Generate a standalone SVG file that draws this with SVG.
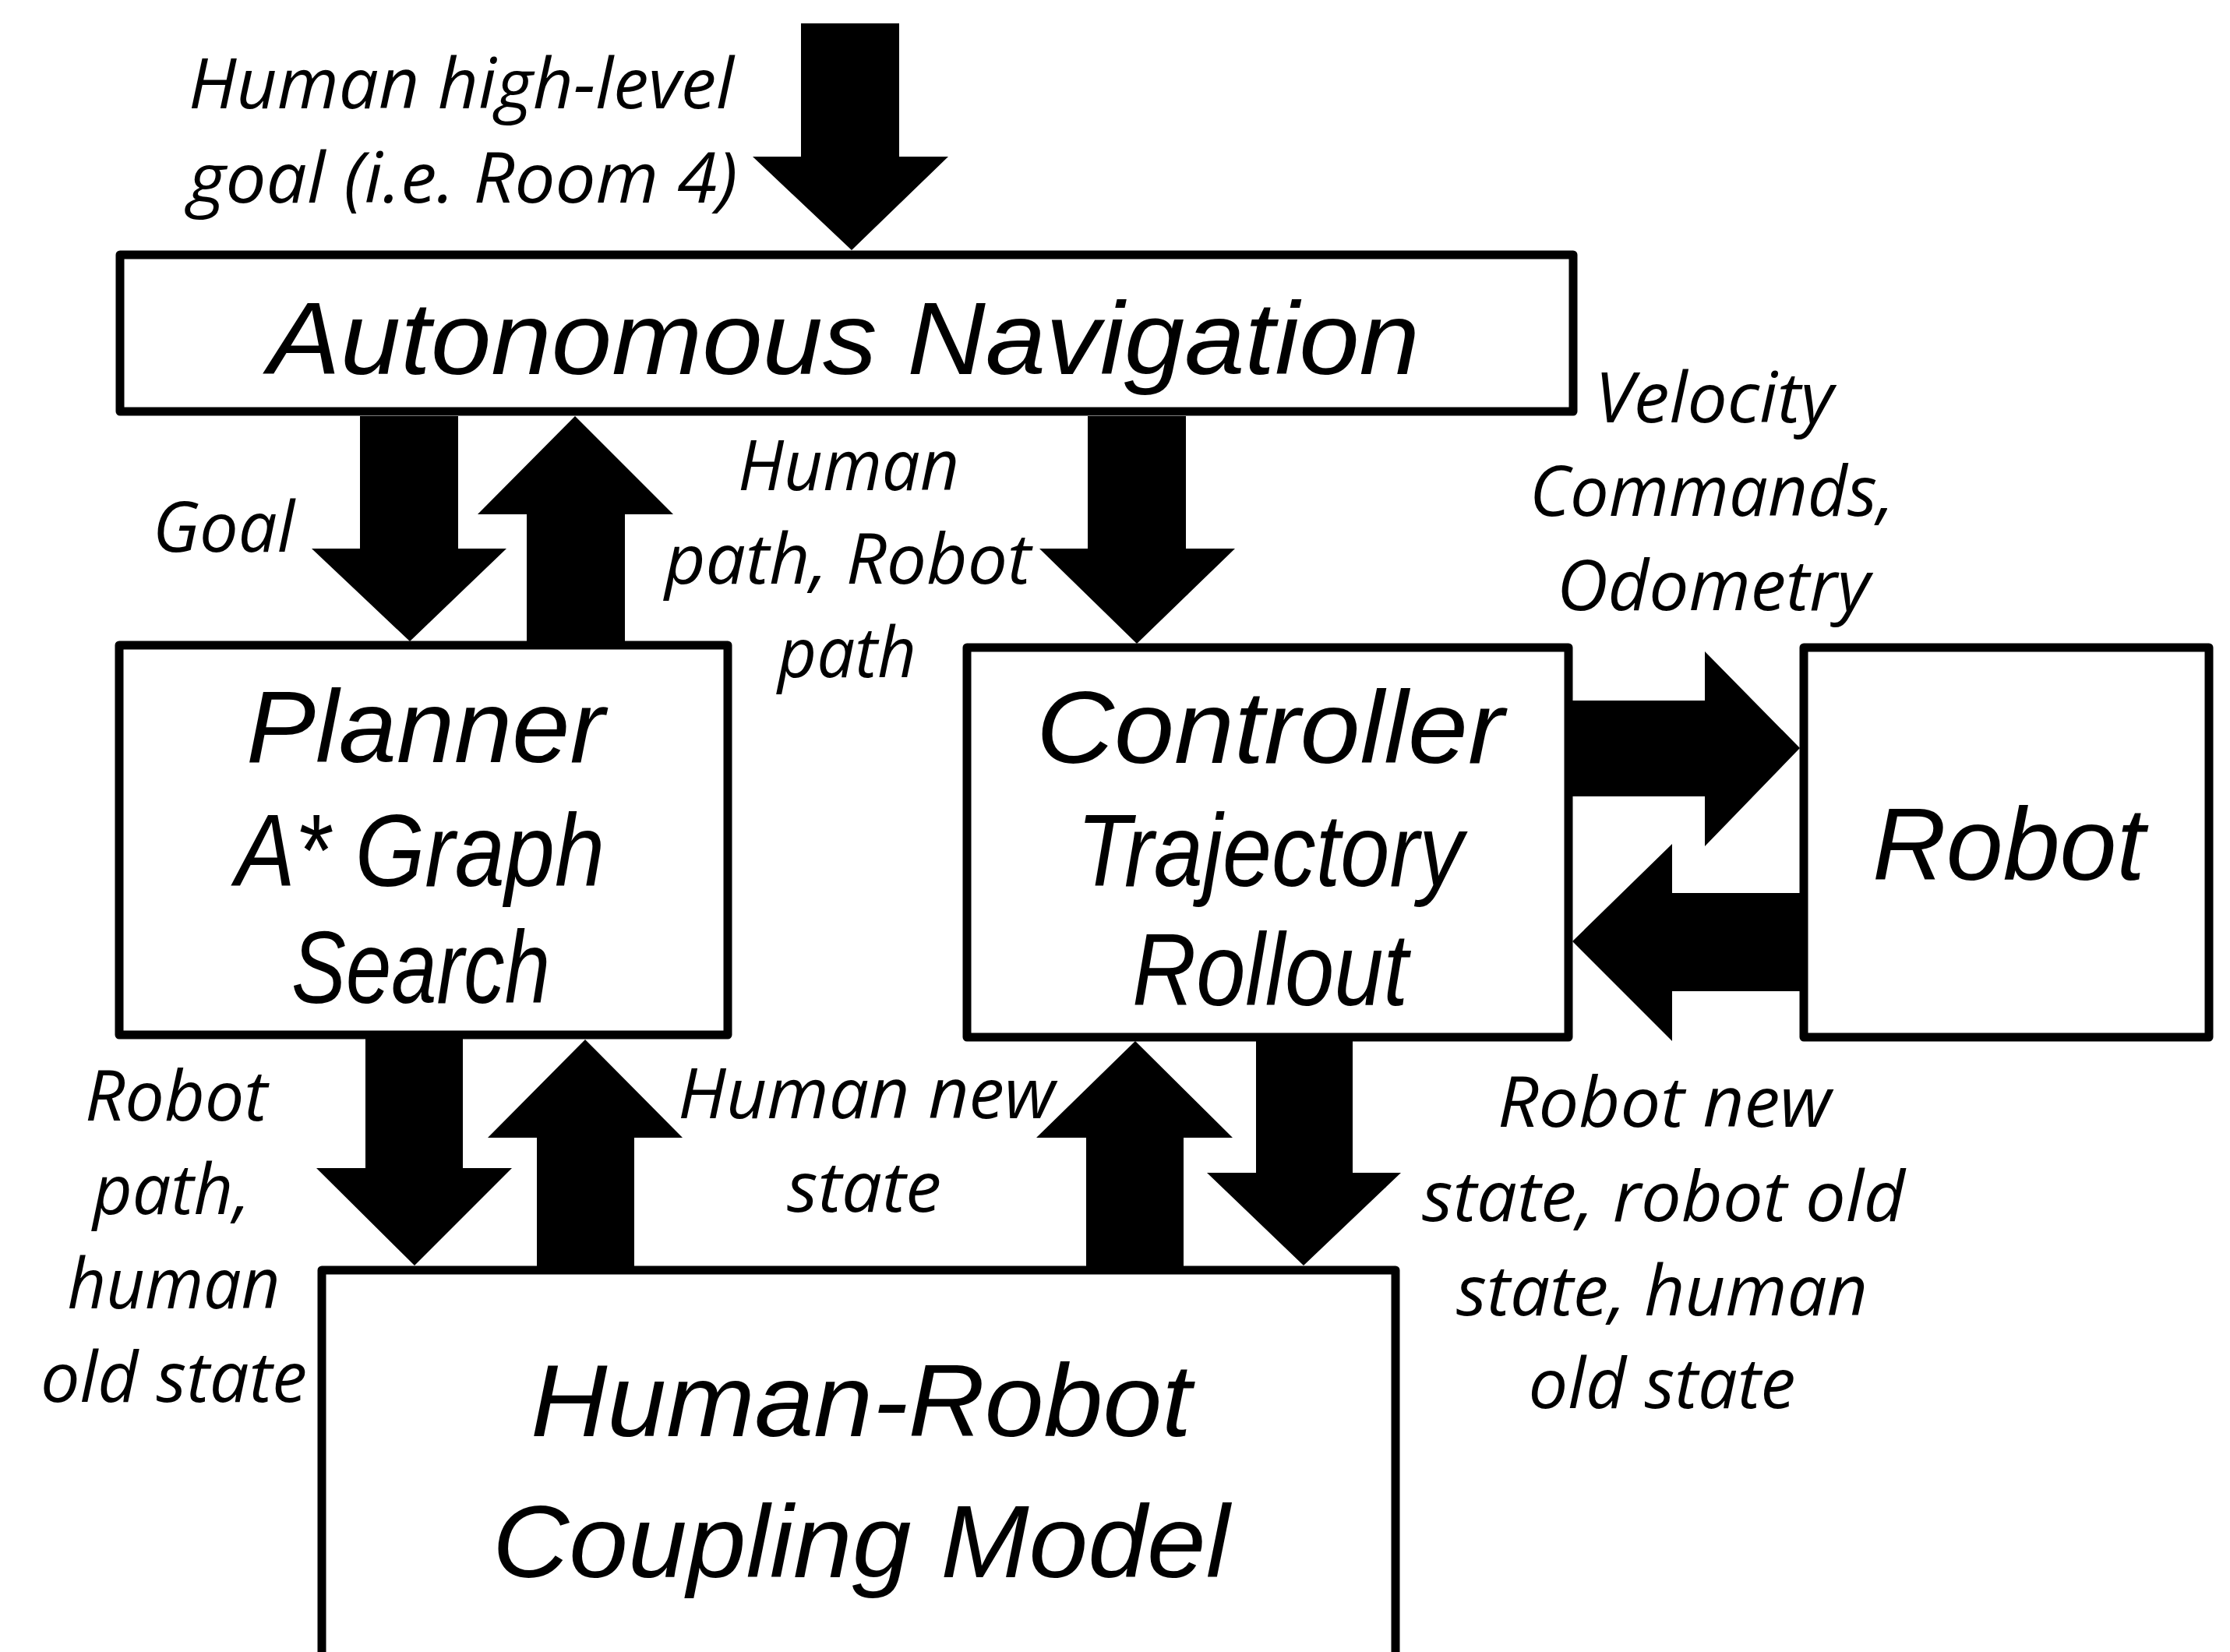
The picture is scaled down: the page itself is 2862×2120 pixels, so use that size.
<svg xmlns="http://www.w3.org/2000/svg" width="2862" height="2120" viewBox="0 0 2862 2120">
  <style>
    .box { fill: #ffffff; stroke: #000000; stroke-width: 11; stroke-linejoin: round; }
    .arrow { fill: #000000; stroke: none; }
    .main { font-family: "Liberation Sans", Arial, sans-serif; font-style: italic; font-size: 131px; fill: #000000; text-anchor: middle; }
    .lbl { font-family: "Open Sans", "Noto Sans", "DejaVu Sans", sans-serif; font-style: italic; font-size: 89px; fill: #000000; text-anchor: middle; }
  </style>
  <rect x="0" y="0" width="2862" height="2120" fill="#ffffff"/>

  <g id="connectors">
    <polygon class="arrow" points="1028,30 1154,30 1154,201 1217,201 1093,321 966,201 1028,201"/>
    <polygon class="arrow" points="462,534 588,534 588,704 650,704 526,823 400,704 462,704"/>
    <polygon class="arrow" points="676,823 802,823 802,660 864,660 738,534 613,660 676,660"/>
    <polygon class="arrow" points="1396,534 1522,534 1522,704 1585,704 1459,826 1334,704 1396,704"/>
    <polygon class="arrow" points="2018,899 2188,899 2188,836 2310,960 2188,1086 2188,1022 2018,1022"/>
    <polygon class="arrow" points="2310,1146 2146,1146 2146,1083 2018,1208 2146,1336 2146,1272 2310,1272"/>
    <polygon class="arrow" points="469,1333 594,1333 594,1499 657,1499 532,1624 406,1499 469,1499"/>
    <polygon class="arrow" points="689,1625 814,1625 814,1460 876,1460 751,1334 626,1460 689,1460"/>
    <polygon class="arrow" points="1394,1625 1519,1625 1519,1460 1582,1460 1457,1336 1330,1460 1394,1460"/>
    <polygon class="arrow" points="1612,1336 1736,1336 1736,1505 1798,1505 1673,1624 1549,1505 1612,1505"/>
  </g>

  <g id="edge-labels">
    <text class="lbl" x="592" y="139" textLength="700" lengthAdjust="spacingAndGlyphs">Human high-level</text>
    <text class="lbl" x="594" y="260" textLength="705" lengthAdjust="spacingAndGlyphs">goal (i.e. Room 4)</text>
    <text class="lbl" x="287" y="708" textLength="182" lengthAdjust="spacingAndGlyphs">Goal</text>
    <text class="lbl" x="1089" y="629" textLength="284" lengthAdjust="spacingAndGlyphs">Human</text>
    <text class="lbl" x="1088" y="749" textLength="470" lengthAdjust="spacingAndGlyphs">path, Robot</text>
    <text class="lbl" x="1087" y="869" textLength="178" lengthAdjust="spacingAndGlyphs">path</text>
    <text class="lbl" x="2200" y="542" textLength="306" lengthAdjust="spacingAndGlyphs">Velocity</text>
    <text class="lbl" x="2197" y="662" textLength="468" lengthAdjust="spacingAndGlyphs">Commands,</text>
    <text class="lbl" x="2199" y="783" textLength="402" lengthAdjust="spacingAndGlyphs">Odometry</text>
    <text class="lbl" x="226" y="1438" textLength="234" lengthAdjust="spacingAndGlyphs">Robot</text>
    <text class="lbl" x="220" y="1558" textLength="202" lengthAdjust="spacingAndGlyphs">path,</text>
    <text class="lbl" x="223" y="1679" textLength="273" lengthAdjust="spacingAndGlyphs">human</text>
    <text class="lbl" x="223" y="1799" textLength="342" lengthAdjust="spacingAndGlyphs">old state</text>
    <text class="lbl" x="1112" y="1435" textLength="484" lengthAdjust="spacingAndGlyphs">Human new</text>
    <text class="lbl" x="1109" y="1555" textLength="198" lengthAdjust="spacingAndGlyphs">state</text>
    <text class="lbl" x="2136" y="1446" textLength="428" lengthAdjust="spacingAndGlyphs">Robot new</text>
    <text class="lbl" x="2135" y="1567" textLength="620" lengthAdjust="spacingAndGlyphs">state, robot old</text>
    <text class="lbl" x="2133" y="1688" textLength="528" lengthAdjust="spacingAndGlyphs">state, human</text>
    <text class="lbl" x="2133" y="1807" textLength="343" lengthAdjust="spacingAndGlyphs">old state</text>
  </g>

  <g id="node-autonomous-navigation">
    <rect class="box" x="154" y="327" width="1865" height="201"/>
    <text class="main" x="1083" y="480" textLength="1478" lengthAdjust="spacingAndGlyphs">Autonomous Navigation</text>
  </g>

  <g id="node-planner">
    <rect class="box" x="153" y="828" width="781" height="500"/>
    <text class="main" x="546" y="978" textLength="460" lengthAdjust="spacingAndGlyphs">Planner</text>
    <text class="main" x="539" y="1137" textLength="474" lengthAdjust="spacingAndGlyphs">A* Graph</text>
    <text class="main" x="540" y="1287" textLength="332" lengthAdjust="spacingAndGlyphs">Search</text>
  </g>

  <g id="node-controller">
    <rect class="box" x="1241" y="831" width="772" height="500"/>
    <text class="main" x="1630" y="979" textLength="600" lengthAdjust="spacingAndGlyphs">Controller</text>
    <text class="main" x="1630" y="1137" textLength="496" lengthAdjust="spacingAndGlyphs">Trajectory</text>
    <text class="main" x="1630" y="1290" textLength="354" lengthAdjust="spacingAndGlyphs">Rollout</text>
  </g>

  <g id="node-robot">
    <rect class="box" x="2315" y="831" width="520" height="500"/>
    <text class="main" x="2578" y="1129" textLength="350" lengthAdjust="spacingAndGlyphs">Robot</text>
  </g>

  <g id="node-human-robot-coupling-model">
    <rect class="box" x="413" y="1630" width="1378" height="530"/>
    <text class="main" x="1105" y="1843" textLength="848" lengthAdjust="spacingAndGlyphs">Human-Robot</text>
    <text class="main" x="1105" y="2024" textLength="946" lengthAdjust="spacingAndGlyphs">Coupling Model</text>
  </g>
</svg>
